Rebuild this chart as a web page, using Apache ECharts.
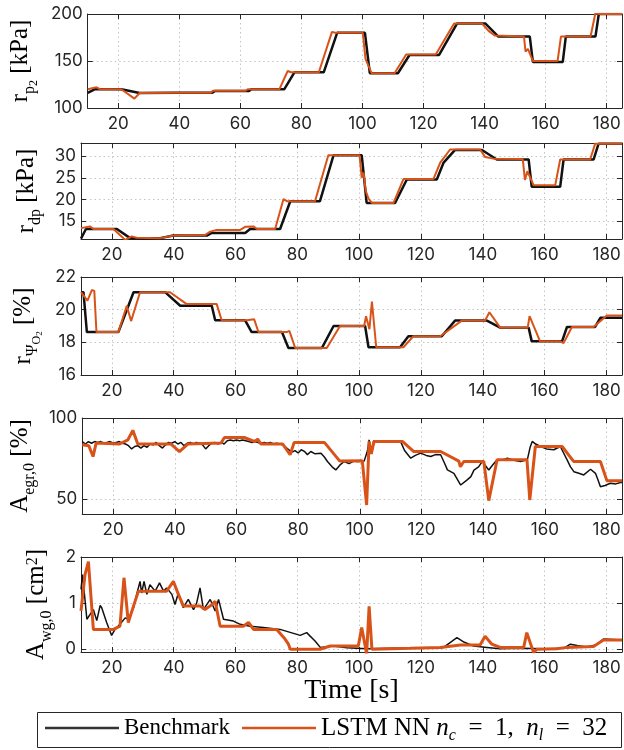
<!DOCTYPE html>
<html>
<head>
<meta charset="utf-8">
<script src="https://cdn.jsdelivr.net/npm/echarts@6/dist/echarts.min.js"></script>
<style>
  html, body { margin: 0; padding: 0; background: #fff; }
  #chart { width: 624px; height: 750px; }
</style>
</head>
<body>
<div id="chart"></div>
<script>
// ---- time axis ----
const timeTicks = [20, 40, 60, 80, 100, 120, 140, 160, 180];

// ---- r_p2 [kPa] ----
const rp2BenchT = [10, 12.4, 21, 27, 38.8, 50.8, 51.6, 62.8, 63.6, 74.4, 77.7, 87.3, 91.7, 100.8, 102.4, 111.6, 115.4, 125.1, 131.0, 140.2, 144.5, 154.8, 155.8, 165.6, 166.6, 176.3, 177.4, 185];
const rp2BenchV = [116, 120, 120, 116, 116.3, 116.3, 118, 118, 120, 120, 138, 138, 180, 180, 137, 137, 156.4, 156.4, 190, 190, 176, 176, 149, 149, 176, 176, 200, 200];
const rp2LstmT = [10, 12.9, 14, 21, 25.3, 27, 38.8, 50.3, 51.0, 61.7, 62.4, 72.8, 75.5, 76.6, 85.7, 90.0, 91.1, 100.1, 101.0, 101.4, 103, 110.5, 114.3, 124, 130, 139.1, 141.3, 143.4, 152.9, 153.4, 154.2, 155.8, 163.9, 165, 174.7, 176.3, 177.4, 185];
const rp2LstmV = [120, 122, 120, 120, 110, 116, 116.3, 116.3, 118.4, 118.4, 120, 120, 139.4, 138, 138, 181, 180, 180, 152, 154, 137, 137, 157, 157, 190, 190, 182, 177, 176, 160, 163, 150, 150, 176, 176, 201, 200, 200];
const rp2Ticks = [100, 150, 200];

// ---- r_dp [kPa] ----
const rdpBenchT = [10, 11.6, 21.6, 25.9, 35.6, 39.9, 50.7, 52.3, 63.1, 64.7, 74.4, 77.7, 87.3, 91.7, 100.8, 102.4, 111.6, 115.4, 125.1, 127.3, 131, 139.7, 144.5, 154.8, 155.8, 165, 166.1, 175.8, 177.4, 185];
const rdpBenchV = [11, 13.2, 13.2, 11.1, 11.1, 11.7, 11.7, 12.3, 12.3, 13.2, 13.2, 19.6, 19.6, 30.2, 30.2, 19.2, 19.2, 24.6, 24.6, 28.5, 31.4, 31.4, 29.2, 29.2, 22.9, 22.9, 29.2, 29.2, 32.8, 32.8];
const rdpLstmT = [10, 12.9, 14, 20.5, 24.3, 26.4, 28, 35.6, 39.9, 50.1, 51.8, 53.9, 61.5, 63.1, 65.8, 66.9, 72.8, 75.5, 76.6, 85.7, 90, 100.1, 100.8, 101.4, 102.1, 103, 104.1, 111.1, 114.3, 124, 126.2, 129.4, 139.1, 140.7, 143.4, 152.9, 153.6, 154.4, 156.4, 163.4, 165, 174.7, 176.3, 185];
const rdpLstmV = [13.4, 13.8, 13.2, 13.2, 10.7, 11.5, 11.2, 11.1, 11.7, 11.8, 12.6, 13.0, 13.0, 13.7, 13.8, 13.2, 13.2, 20.1, 19.6, 19.6, 30.2, 30.2, 25, 26.2, 22, 20.2, 19.2, 19.2, 24.7, 24.7, 28.5, 31.5, 31.5, 29.8, 29.4, 29.3, 24.5, 26.5, 23.3, 23.3, 29.2, 29.2, 32.8, 32.8];
const rdpTicks = [15, 20, 25, 30];

// ---- r_Psi_O2 [%] ----
const psiBenchT = [10, 10.8, 11.9, 22.1, 27, 37.2, 42.1, 52.3, 53.4, 63.1, 65.2, 75, 77.1, 87.9, 91.7, 101.9, 103, 113.2, 115.9, 126.7, 131, 141.3, 145.6, 154.8, 155.8, 165.6, 167.2, 176.3, 178, 185];
const psiBenchV = [21.07, 21.07, 18.63, 18.63, 21.07, 21.07, 20.24, 20.24, 19.35, 19.35, 18.63, 18.63, 17.65, 17.65, 19.0, 19.0, 17.7, 17.7, 18.37, 18.37, 19.33, 19.33, 18.9, 18.9, 18.06, 18.06, 18.94, 18.94, 19.5, 19.5];
const psiLstmT = [10, 12.1, 13.5, 14.3, 15, 22.1, 24.8, 26.2, 29.1, 38.8, 44.2, 53.9, 54.5, 55.5, 63.6, 66, 67.4, 76.6, 77.4, 79.3, 89.5, 93.8, 101.6, 102.2, 103.3, 104.1, 105.5, 114.3, 117.5, 126.2, 133.2, 140.7, 142.1, 145.6, 154.5, 155.1, 158.5, 165, 166.1, 168.8, 175.8, 176.3, 180.1, 185];
const psiLstmV = [21.07, 20.55, 21.2, 21.15, 18.63, 18.63, 20.24, 19.3, 21.07, 21.07, 20.34, 20.34, 20.45, 19.35, 19.35, 19.42, 18.63, 18.63, 18.7, 17.65, 17.65, 19.0, 19.0, 19.6, 18.8, 20.5, 17.7, 17.7, 18.37, 18.37, 19.33, 19.33, 19.84, 18.9, 18.9, 19.6, 18.06, 18.06, 17.95, 18.94, 18.94, 18.85, 19.65, 19.65];
const psiTicks = [16, 18, 20, 22];

// ---- A_egr,0 [%] ----
const egrBenchT = [10, 11, 12, 13, 14, 15, 16, 17, 18, 19, 20, 21, 22, 23, 24, 25, 26, 27, 28, 29,
  30, 31, 32, 33, 34, 35, 36, 37, 38, 39, 40, 41, 42, 43, 44, 45, 46, 47, 48, 49,
  50, 51, 52, 53, 54, 55, 56, 57, 58, 59, 60, 61, 62, 63, 64, 65, 66, 67, 68, 69,
  70, 71, 72, 73, 74, 75, 76, 77, 78, 79, 80,
  81, 82, 83, 84.1, 85.5, 87.4, 88.5, 89.5, 91, 92.2, 93.5, 94.9, 96.5, 98, 99.2, 101.4, 102.5, 103, 103.8, 104.5,
  106, 108, 110, 113.3, 114.5, 116.5, 118, 119.7, 121.5, 123, 124.5, 126.2, 127.5, 128.4, 130.5, 132.7, 134.8, 136, 137, 138.5,
  139.7, 141.8, 143, 144.5, 146, 147.8, 150, 152.1, 154.3, 155.2, 155.9, 157, 158.6, 160.5, 162.9, 165, 167.2, 168.3, 169.4, 171,
  172.6, 174.8, 176.4, 177.2, 178, 179.5, 181.2, 183, 184.5, 185];
const egrBenchV = [85.5, 84, 85.5, 84.5, 85.5, 85, 85.5, 84.5, 85, 85.5, 84.5, 85, 85.5, 84.5, 84, 83, 81, 82.5, 83, 81.5,
  83, 82, 84, 83.5, 85, 83, 81.5, 83.5, 85, 84.5, 85.5, 84, 85, 83, 84.5, 85, 84, 85, 84.5, 83.5,
  81, 83, 84.5, 85, 84, 85, 84, 86, 86.5, 86, 86.5, 86, 86.5, 86, 85.5, 85, 85.5, 85, 84.5, 85,
  84.5, 85, 84, 84.5, 84, 83.5, 82, 80.5, 79, 80, 78.5,
  80.5, 79.5, 77.5, 79.4, 78, 78.4, 76, 73.3, 70, 68.1, 71, 73.3, 72, 73.5, 73.3, 73.5, 80, 86.5, 78, 86,
  85.5, 85.8, 85.2, 85.2, 80, 75.3, 77, 78.4, 77, 76.3, 77.5, 77.4, 72, 68.1, 66, 58.8, 62, 64, 68, 70,
  73.3, 68, 71, 74.3, 74, 75.3, 74, 73.3, 74.3, 82, 85.6, 84, 82.5, 81, 80.5, 82.5, 74.3, 70, 67, 66,
  65, 68.5, 66, 62, 57.8, 58.5, 59.9, 59.5, 60.3, 60.3];
const egrLstmT = [10, 12.1, 13.5, 14.5, 22.1, 24.8, 26.4, 28, 38.8, 41.5, 44.2, 55, 56.1, 62.5, 65.8, 66.9, 67.9, 75, 77.4, 78.7, 88.5, 93.5, 100.8, 102.2, 103, 103.7, 104.6, 113.8, 117.5, 126.2, 132.1, 132.6, 133.7, 140.2, 141.8, 144.5, 154.2, 155.1, 156.9, 165.6, 169.3, 178, 180.1, 185];
const egrLstmV = [83.5, 83, 76.3, 84.6, 84, 86.6, 92.4, 84, 84, 79.4, 84, 84.6, 88, 88, 85.6, 87, 84, 84, 77.4, 85, 85, 73.5, 73.7, 46.5, 85.6, 78, 85.6, 85.6, 79.4, 79.4, 73.5, 70, 73.3, 73.3, 49.2, 74.3, 74.3, 49.6, 82.5, 82.5, 73.3, 73.3, 61.5, 61.5];
const egrTicks = [50, 100];

// ---- A_wg,0 [cm^2] ----
const wgBenchT = [10, 10.5, 11.9, 14, 15.1, 16.2, 16.7, 18.3, 19.9, 21, 22.6, 24.3, 25.3, 27, 28, 29.1, 29.6, 30.4, 31.3, 32.3,
  34, 35.4, 36.7, 37.7, 39.4, 40.4, 41.5, 43.1, 44.7, 46.4, 47.4, 48.5, 49.6, 51.8, 53.4, 54.5, 56.1, 59.3, 61.5, 64.7,
  69, 74.4, 80.9, 83, 85.7, 87.4, 91.7, 96, 102.4, 110, 118, 124, 127.3, 129.5, 131.6, 134, 137, 141.3, 145.6, 152,
  160, 166.1, 168.3, 170.5, 173.6, 176.5, 179, 185];
const wgBenchV = [1.3, 1.62, 0.65, 0.86, 0.62, 0.95, 0.9, 0.58, 0.3, 0.43, 0.54, 0.68, 0.65, 0.9, 1.19, 1.47, 1.22, 1.47, 1.19, 1.4,
  1.26, 1.44, 1.26, 1.33, 1.19, 0.97, 1.22, 0.9, 1.08, 0.86, 1.0, 1.33, 0.86, 1.08, 0.83, 1.08, 0.65, 0.61, 0.54, 0.5,
  0.47, 0.43, 0.3, 0.36, 0.18, 0.04, 0.07, 0.03, 0.01, 0.02, 0.03, 0.02, 0.04, 0.15, 0.25, 0.15, 0.07, 0.04, 0.01, 0.02,
  0.01, 0.02, 0.11, 0.08, 0.05, 0.09, 0.22, 0.2];
const wgLstmT = [10, 11.3, 12.4, 12.9, 14, 20.5, 22.6, 23.9, 25.3, 27, 28.6, 37.7, 39.9, 41.5, 43.1, 48.5, 50.1, 51.8, 53.4, 55,
  62.5, 64.2, 65.8, 73.3, 76, 77.1, 77.7, 87.3, 90.6, 99.7, 100.8, 102.4, 103.2, 104.1, 116.5, 126.2, 132.7, 139.1, 140.7, 142.9,
  145.6, 153.2, 154.2, 156.4, 157.5, 163.9, 167.2, 175.8, 179, 185];
const wgLstmV = [0.83, 1.62, 1.9, 1.87, 0.43, 0.43, 0.5, 1.55, 0.58, 0.94, 1.26, 1.26, 1.47, 1.19, 0.94, 0.94, 0.86, 0.94, 1.04, 0.5,
  0.5, 0.58, 0.43, 0.43, 0.22, 0.11, 0, 0, 0.07, 0.07, 0.47, -0.1, 0.93, 0, 0.02, 0.04, 0.09, 0.09, 0.28, 0.11,
  0.04, 0.04, 0.36, -0.07, 0, 0.01, 0.04, 0.06, 0.2, 0.2];
const wgTicks = [0, 1, 2];

// ---- styling ----
const BLACK = '#111111';
const ORANGE = '#D95319';
const AXIS = '#262626';
const TICK_FONT = 'Inter, "Liberation Sans", sans-serif';
const SERIF = '"Liberation Serif", "DejaVu Serif", serif';

const zip = (t, v) => t.map((x, i) => [x, v[i]]);

// rich styles for the math-like axis titles
const labelRich = {
  m:   { fontFamily: SERIF, fontSize: 25, lineHeight: 25, verticalAlign: 'top', color: '#000' },
  s:   { fontFamily: SERIF, fontSize: 16, lineHeight: 16, padding: [14, 0, 0, 0], verticalAlign: 'top', color: '#000' },
  ss:  { fontFamily: SERIF, fontSize: 12, lineHeight: 12, padding: [20, 0, 0, 0], verticalAlign: 'top', color: '#000' },
  sss: { fontFamily: SERIF, fontSize: 9,  lineHeight: 9,  padding: [24, 0, 0, 0], verticalAlign: 'top', color: '#000' },
  sup: { fontFamily: SERIF, fontSize: 16, lineHeight: 16, padding: [0, 0, 0, 0], verticalAlign: 'top', color: '#000' }
};

const panels = [
  { top: 14,  height: 94, min: 100,  max: 200, ticks: rp2Ticks, gap: 30,
    name: '{m|r}{s|p}{ss|2}{m| [kPa]}',
    bench: zip(rp2BenchT, rp2BenchV), lstm: zip(rp2LstmT, rp2LstmV), bw: 2.5, lw: 2 },
  { top: 143, height: 96, min: 10.9, max: 33,  ticks: rdpTicks, gap: 28,
    name: '{m|r}{s|dp}{m| [kPa]}',
    bench: zip(rdpBenchT, rdpBenchV), lstm: zip(rdpLstmT, rdpLstmV), bw: 2.5, lw: 2 },
  { top: 277, height: 98, min: 16,   max: 22,  ticks: psiTicks, gap: 29,
    name: '{m|r}{s|Ψ}{ss|O}{sss|2}{m| [%]}',
    bench: zip(psiBenchT, psiBenchV), lstm: zip(psiLstmT, psiLstmV), bw: 2.5, lw: 2 },
  { top: 418, height: 96, min: 41,   max: 100, ticks: egrTicks, gap: 30,
    name: '{m|A}{s|egr,0}{m| [%]}',
    bench: zip(egrBenchT, egrBenchV), lstm: zip(egrLstmT, egrLstmV), bw: 1.5, lw: 3 },
  { top: 557, height: 95, min: -0.06, max: 2,  ticks: wgTicks, gap: 21,
    name: '{m|A}{s|wg,0}{m| [cm}{sup|2}{m|]}',
    bench: zip(wgBenchT, wgBenchV), lstm: zip(wgLstmT, wgLstmV), bw: 1.5, lw: 3 }
];

const grid = [], xAxis = [], yAxis = [], series = [];
const gridLine = { show: true, lineStyle: { color: '#c4c4c4', width: 1, type: [1.5, 3] } };

panels.forEach((p, i) => {
  grid.push({ left: 81, right: 2, top: p.top, height: p.height, containLabel: false });

  // bottom (labelled) and top (ticks only) time axes
  xAxis.push({
    type: 'value', gridIndex: i, position: 'bottom', min: 10, max: 185,
    axisLine: { show: true, onZero: false, lineStyle: { color: AXIS, width: 1 } },
    axisTick: { show: true, inside: true, length: 5, customValues: timeTicks, lineStyle: { color: AXIS } },
    axisLabel: { show: true, customValues: timeTicks, margin: 7, fontSize: 17, fontFamily: TICK_FONT, color: AXIS },
    splitLine: gridLine,
    name: i === panels.length - 1 ? 'Time [s]' : '',
    nameLocation: 'middle', nameGap: 23,
    nameTextStyle: { fontFamily: SERIF, fontSize: 28, lineHeight: 28, color: '#000' }
  });
  xAxis.push({
    type: 'value', gridIndex: i, position: 'top', min: 10, max: 185,
    axisLine: { show: true, onZero: false, lineStyle: { color: AXIS, width: 1 } },
    axisTick: { show: true, inside: true, length: 5, customValues: timeTicks, lineStyle: { color: AXIS } },
    axisLabel: { show: false }, splitLine: { show: false }
  });

  // left (labelled) and right (ticks only) value axes
  yAxis.push({
    type: 'value', gridIndex: i, position: 'left', min: p.min, max: p.max,
    axisLine: { show: true, onZero: false, lineStyle: { color: AXIS, width: 1 } },
    axisTick: { show: true, inside: true, length: 5, customValues: p.ticks, lineStyle: { color: AXIS } },
    axisLabel: { show: true, customValues: p.ticks, margin: 5, fontSize: 17, fontFamily: TICK_FONT, color: AXIS },
    splitLine: gridLine,
    name: p.name, nameLocation: 'middle', nameRotate: 90, nameGap: p.gap,
    nameTextStyle: { rich: labelRich }
  });
  yAxis.push({
    type: 'value', gridIndex: i, position: 'right', min: p.min, max: p.max,
    axisLine: { show: true, onZero: false, lineStyle: { color: AXIS, width: 1 } },
    axisTick: { show: true, inside: true, length: 5, customValues: p.ticks, lineStyle: { color: AXIS } },
    axisLabel: { show: false }, splitLine: { show: false }
  });

  series.push({
    name: 'Benchmark', type: 'line', xAxisIndex: 2 * i, yAxisIndex: 2 * i,
    data: p.bench, symbol: 'none', clip: true,
    lineStyle: { color: BLACK, width: p.bw }, itemStyle: { color: BLACK }
  });
  series.push({
    name: 'LSTM NN', type: 'line', xAxisIndex: 2 * i, yAxisIndex: 2 * i,
    data: p.lstm, symbol: 'none', clip: true,
    lineStyle: { color: ORANGE, width: p.lw }, itemStyle: { color: ORANGE }
  });
});

const legendRich = {
  b: { fontFamily: SERIF, fontSize: 23, lineHeight: 24, verticalAlign: 'top', color: '#000' },
  a: { fontFamily: SERIF, fontSize: 25, lineHeight: 24, verticalAlign: 'top', color: '#000' },
  i: { fontFamily: SERIF, fontSize: 25, lineHeight: 24, fontStyle: 'italic', verticalAlign: 'top', color: '#000' },
  s: { fontFamily: SERIF, fontSize: 16, lineHeight: 16, fontStyle: 'italic', padding: [12, 0, 0, 0], verticalAlign: 'top', color: '#000' }
};

const chart = echarts.init(document.getElementById('chart'), null, { renderer: 'canvas' });
chart.setOption({
  animation: false,
  backgroundColor: '#fff',
  grid, xAxis, yAxis, series,
  // frame around the legend entries
  graphic: [{
    type: 'rect', z: 0, silent: true,
    shape: { x: 37.5, y: 712.5, width: 584, height: 35 },
    style: { fill: '#fff', stroke: AXIS, lineWidth: 1 }
  }],
  legend: {
    left: 45, top: 716, z: 10,
    padding: 0,
    itemGap: 12, itemWidth: 74, itemHeight: 2.5,
    icon: 'rect',
    borderWidth: 0,
    data: [
      { name: 'Benchmark', icon: 'rect', itemStyle: { color: '#333' } },
      { name: 'LSTM NN', icon: 'rect', itemStyle: { color: ORANGE } }
    ],
    textStyle: { rich: legendRich },
    formatter: name => name === 'Benchmark'
      ? '{b|Benchmark}'
      : '{a|LSTM NN }{i|n}{s|c}{a|\u2002=\u20021,\u2002}{i|n}{s|l}{a|\u2002=\u200232}'
  }
});
</script>
</body>
</html>
